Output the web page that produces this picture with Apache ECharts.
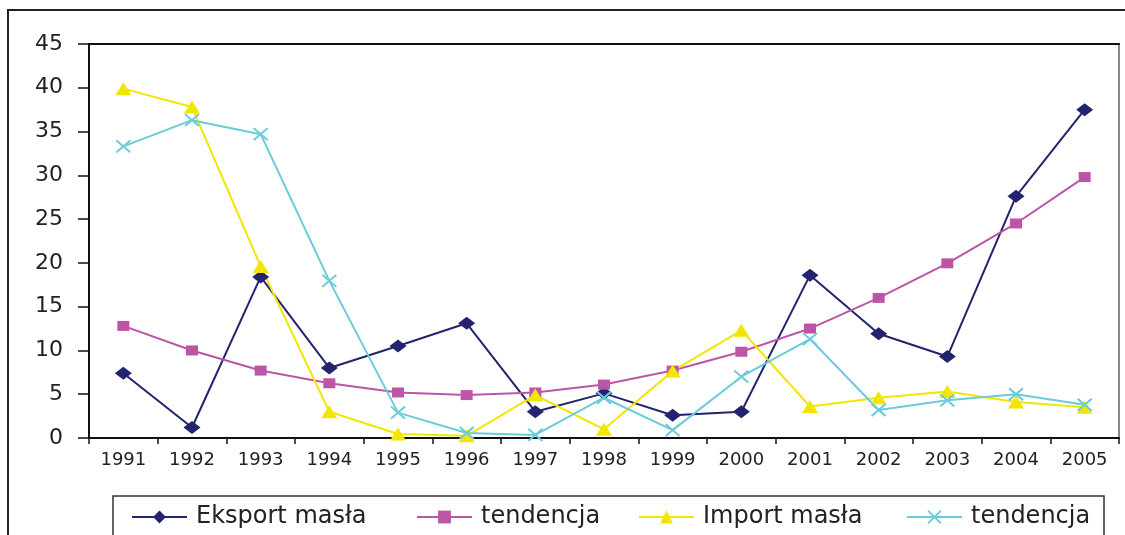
<!DOCTYPE html>
<html><head><meta charset="utf-8">
<script src="https://cdn.jsdelivr.net/npm/echarts@6/dist/echarts.min.js"></script>
<style>html,body{margin:0;padding:0;background:#fff}#c{width:1125px;height:535px}</style>
</head><body><div id="c"></div>
<script>
const years = ['1991','1992','1993','1994','1995','1996','1997','1998','1999','2000','2001','2002','2003','2004','2005'];
const eksport      = [7.4, 1.2, 18.4, 8.0, 10.5, 13.1, 3.0, 5.1, 2.6, 3.0, 18.6, 11.9, 9.3, 27.6, 37.5];
const eksportTrend = [12.8, 10.0, 7.7, 6.25, 5.2, 4.9, 5.2, 6.1, 7.7, 9.85, 12.5, 16.0, 19.95, 24.5, 29.8];
const importMasla  = [39.9, 37.8, 19.6, 3.0, 0.45, 0.25, 4.9, 1.0, 7.65, 12.3, 3.6, 4.6, 5.3, 4.1, 3.5];
const importTrend  = [33.3, 36.3, 34.7, 17.95, 2.9, 0.57, 0.35, 4.6, 0.9, 7.0, 11.3, 3.2, 4.3, 5.0, 3.8];
const yMin = 0, yMax = 45, yStep = 5;
const seriesNames = ['Eksport masła', 'tendencja (eksport)', 'Import masła', 'tendencja (import)'];
const legendLabels = ['Eksport masła', 'tendencja', 'Import masła', 'tendencja'];

const FONT = 'DejaVu Sans';
const colors = ['#24246E', '#BD55A6', '#F2E600', '#6ACBDB'];
const chart = echarts.init(document.getElementById('c'));

const legendLeft = [131, 416, 638, 906];
const legends = seriesNames.map((n, i) => ({
  data: [n], left: legendLeft[i], top: 505, padding: 0,
  itemWidth: 55, itemHeight: 16, selectedMode: false,
  formatter: () => legendLabels[i],
  textStyle: { fontFamily: FONT, fontSize: 24, color: '#222', lineHeight: 24, padding: [0, 0, 0, 4] }
}));

chart.setOption({
  animation: false,
  backgroundColor: '#fff',
  grid: { left: 89, right: 6, top: 44, bottom: 97, containLabel: false },
  legend: legends,
  graphic: [
    { type: 'rect', shape: { x: 8, y: 10, width: 1300, height: 700 },
      style: { fill: 'none', stroke: '#222', lineWidth: 2 }, z: 0 },
    { type: 'rect', shape: { x: 113, y: 496, width: 991, height: 80 },
      style: { fill: 'none', stroke: '#333', lineWidth: 1.5 }, z: 0 }
  ],
  xAxis: [
    { type: 'category', data: years, boundaryGap: true, position: 'bottom',
      axisLine: { onZero: false, lineStyle: { color: '#111', width: 2 } },
      axisTick: { show: true, length: 6, interval: 0, lineStyle: { color: '#111', width: 1.5 } },
      axisLabel: { interval: 0, margin: 13, fontFamily: FONT, fontSize: 18, color: '#222' },
      splitLine: { show: false } },
    { type: 'category', data: years, position: 'top',
      axisLine: { show: true, onZero: false, lineStyle: { color: '#111', width: 2 } },
      axisTick: { show: false }, axisLabel: { show: false }, splitLine: { show: false } }
  ],
  yAxis: [
    { type: 'value', min: yMin, max: yMax, interval: yStep, position: 'left',
      axisLine: { show: true, onZero: false, lineStyle: { color: '#111', width: 2 } },
      axisTick: { show: true, length: 11, lineStyle: { color: '#111', width: 1.5 } },
      axisLabel: { margin: 26, fontFamily: FONT, fontSize: 22, color: '#222' },
      splitLine: { show: false } },
    { type: 'value', min: yMin, max: yMax, interval: yStep, position: 'right',
      axisLine: { show: true, onZero: false, lineStyle: { color: '#888', width: 2 } },
      axisTick: { show: false }, axisLabel: { show: false }, splitLine: { show: false } }
  ],
  series: [
    { name: seriesNames[0], type: 'line', data: eksport, symbol: 'diamond', symbolSize: [17, 13],
      lineStyle: { color: colors[0], width: 2 }, itemStyle: { color: colors[0] } },
    { name: seriesNames[1], type: 'line', data: eksportTrend, symbol: 'rect', symbolSize: [12, 10],
      lineStyle: { color: colors[1], width: 2 }, itemStyle: { color: colors[1] } },
    { name: seriesNames[2], type: 'line', data: importMasla, symbol: 'triangle', symbolSize: [16, 13],
      lineStyle: { color: colors[2], width: 2 }, itemStyle: { color: colors[2] } },
    { name: seriesNames[3], type: 'line', data: importTrend, symbol: 'path://M0,0L10,10M10,0L0,10', symbolSize: [14, 12],
      lineStyle: { color: colors[3], width: 2 },
      itemStyle: { color: colors[3], borderColor: colors[3], borderWidth: 2 } }
  ]
});
</script></body></html>
